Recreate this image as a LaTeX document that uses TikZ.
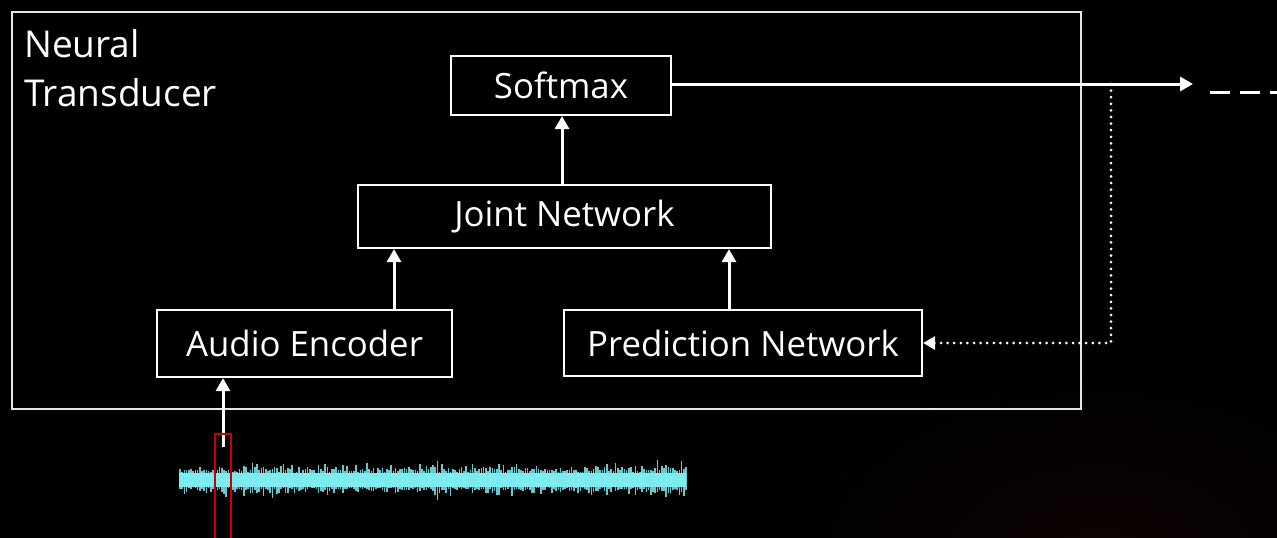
\documentclass[tikz,border=0pt]{standalone}
\usepackage{fontspec}
\setmainfont{Open Sans}
\usetikzlibrary{arrows.meta}
\definecolor{wave}{RGB}{125,235,240}
\definecolor{markred}{RGB}{200,0,0}
\definecolor{frame}{RGB}{230,230,230}
\definecolor{glow}{RGB}{14,3,3}
\tikzset{
  block/.style={draw=white, line width=2.2pt, fill=black, text=white,
    font=\fontsize{34.8}{40}\selectfont, inner sep=0pt},
  label/.style={text=white, font=\fontsize{37}{44}\selectfont, inner sep=0pt},
  flow/.style={draw=white, line width=3pt, -{Triangle[width=14pt,length=13pt]}},
  feedback/.style={draw=white, line width=3pt, line cap=round,
    dash pattern=on 0pt off 6.6pt, -{Triangle[width=13pt,length=12pt]}},
  ahead/.style={draw=white, line width=3pt, dash pattern=on 20pt off 10pt},
  marker/.style={draw=markred, line width=2pt},
}
\begin{document}
\begin{tikzpicture}[x=1pt, y=-1pt]
  % canvas
  \useasboundingbox (0,0) rectangle (1277,538);
  \clip (0,0) rectangle (1277,538);
  \fill[black] (0,0) rectangle (1277,538);
  \shade[inner color=glow, outer color=black] (1100,560) ellipse (330 and 200);

  % outer frame of the model
  \node[draw=frame, line width=2pt, minimum width=1069pt, minimum height=397pt, inner sep=0pt]
    (nt) at (546.5,210.5) {};
  \node[label, anchor=base west] (ntl1) at (24,57) {Neural};
  \node[label, anchor=base west] (ntl2) at (24,106) {Transducer};

  % blocks
  \node[block, minimum width=220pt, minimum height=59pt] (soft)  at (561,85.5)  {Softmax};
  \node[block, minimum width=413pt, minimum height=63pt] (joint) at (564.5,216.5) {Joint Network};
  \node[block, minimum width=295pt, minimum height=67pt] (audio) at (304.5,343.5) {Audio Encoder};
  \node[block, minimum width=358pt, minimum height=66pt] (pred)  at (743,343)   {Prediction Network};

  % helper points
  \coordinate (out)   at (1193,84);
  \coordinate (tap)   at (1111,84);
  \coordinate (turn)  at (1111,343);
  \coordinate (encx)  at (394,0);
  \coordinate (predx) at (729,0);
  \coordinate (wavein) at (223,447);
  \coordinate (dstart) at (1210,92);
  \coordinate (dend)   at (1285,92);

  % forward connections
  \draw[flow] (joint.north -| 562,0) -- (soft.south -| 562,0);
  \draw[flow] (audio.north -| encx) -- (joint.south -| encx);
  \draw[flow] (pred.north -| predx) -- (joint.south -| predx);
  \draw[flow] (soft.east |- out) -- (out);
  \draw[flow] (wavein) -- (audio.south -| wavein);

  % feedback of the emitted label into the prediction network
  \draw[feedback] (tap) -- (turn) -- (pred.east);

  % continuation of the output sequence
  \draw[ahead] (dstart) -- (dend);

  % audio waveform: dense core band with bursty spikes
  \pgfmathsetseed{11}
  \fill[wave] (179,473) rectangle (686,487);
  \foreach \x in {180,182.2,...,686}{
    \pgfmathsetmacro{\env}{0.55+0.45*abs(sin(\x*2.3))*abs(sin(\x*0.9+20))}
    \pgfmathsetmacro{\up}{7+\env*(5*rnd+14*rnd*rnd)}
    \pgfmathsetmacro{\dn}{7+\env*(4*rnd+12*rnd*rnd)}
    \draw[wave, line width=1.6pt, opacity=0.85] (\x,480-\up) -- (\x,480+\dn);
  }

  % current frame marker
  \draw[marker] (215,545) -- (215,434) -- (231,434) -- (231,545);
\end{tikzpicture}
\end{document}
